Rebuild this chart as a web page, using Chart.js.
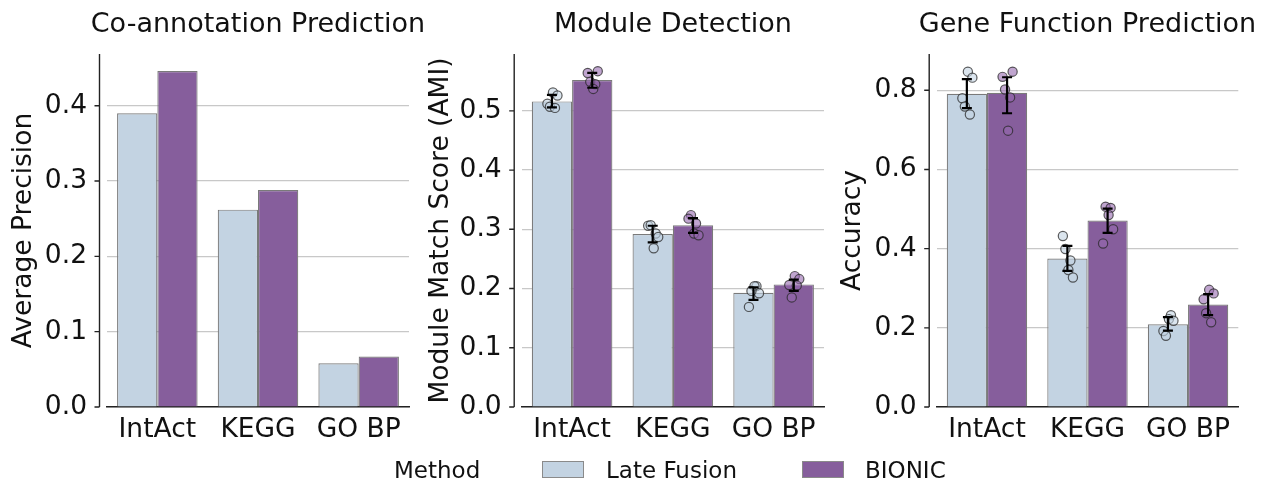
<!DOCTYPE html>
<html>
<head>
<meta charset="utf-8">
<title>BIONIC vs Late Fusion</title>
<script src="https://cdn.jsdelivr.net/npm/chart.js@4.4.1/dist/chart.umd.min.js"></script>
<style>
  body { margin: 0; background: #fff; width: 1273px; height: 486px; position: relative; overflow: hidden; font-family: 'DejaVu Sans', sans-serif; }
  canvas { position: absolute; top: 0; }
  .title { position: absolute; top: 9px; width: 500px; text-align: center; font-size: 27px; line-height: 27px; color: #111; white-space: nowrap; }
  .key { position: absolute; top: 458.5px; font-size: 23px; line-height: 23px; color: #111; white-space: nowrap; }
  .swatch { position: absolute; top: 461px; width: 42px; height: 17px; box-sizing: border-box; border: 1px solid #8a8a8a; }
</style>
</head>
<body>
<canvas id="coann" width="415" height="486" style="left:0px"></canvas>
<canvas id="module" width="420" height="486" style="left:415px"></canvas>
<canvas id="gene" width="438" height="486" style="left:835px"></canvas>

<div class="title" style="left:8px">Co-annotation Prediction</div>
<div class="title" style="left:423px">Module Detection</div>
<div class="title" style="left:837.5px">Gene Function Prediction</div>

<div class="key" style="left:394px">Method</div>
<div class="swatch" style="left:542px; background:#c3d3e2"></div>
<div class="key" style="left:606px">Late Fusion</div>
<div class="swatch" style="left:802px; background:#865e9c"></div>
<div class="key" style="left:865px">BIONIC</div>

<script>
const categories = ['IntAct', 'KEGG', 'GO BP'];
const methods = ['Late Fusion', 'BIONIC'];

// Co-annotation prediction (average precision)
const coannLate = [0.390, 0.262, 0.058];
const coannBionic = [0.446, 0.288, 0.067];
const coannTicks = [0, 0.1, 0.2, 0.3, 0.4];

// Module detection (AMI): means, CI bounds, individual runs
const moduleLate = [0.516, 0.292, 0.193];
const moduleBionic = [0.552, 0.307, 0.207];
const moduleLateLow = [0.506, 0.278, 0.181];
const moduleLateHigh = [0.527, 0.306, 0.202];
const moduleBionicLow = [0.539, 0.294, 0.196];
const moduleBionicHigh = [0.564, 0.319, 0.215];
const moduleLateRuns = [
  [0.531, 0.526, 0.512, 0.507, 0.505],
  [0.306, 0.307, 0.293, 0.268, 0.287],
  [0.204, 0.204, 0.192, 0.169, 0.196]
];
const moduleBionicRuns = [
  [0.567, 0.564, 0.549, 0.545, 0.537],
  [0.324, 0.310, 0.293, 0.290, 0.318],
  [0.221, 0.216, 0.206, 0.185, 0.205]
];
const moduleTicks = [0, 0.1, 0.2, 0.3, 0.4, 0.5];

// Gene function prediction (accuracy)
const geneLate = [0.791, 0.375, 0.209];
const geneBionic = [0.794, 0.471, 0.259];
const geneLateLow = [0.755, 0.344, 0.193];
const geneLateHigh = [0.828, 0.407, 0.227];
const geneBionicLow = [0.742, 0.440, 0.232];
const geneBionicHigh = [0.833, 0.501, 0.285];
const geneLateRuns = [
  [0.847, 0.832, 0.780, 0.759, 0.739],
  [0.432, 0.399, 0.370, 0.346, 0.327],
  [0.232, 0.222, 0.218, 0.192, 0.180]
];
const geneBionicRuns = [
  [0.847, 0.834, 0.802, 0.782, 0.698],
  [0.506, 0.503, 0.485, 0.449, 0.413],
  [0.296, 0.287, 0.272, 0.237, 0.214]
];
const geneTicks = [0, 0.2, 0.4, 0.6, 0.8];

// strip plot jitter, in category widths
const jitter = [0.01, 0.055, -0.045, -0.02, 0.03];

const FONT = 'DejaVu Sans';
const LATE_FILL = '#c3d3e2';
const BIONIC_FILL = '#865e9c';
const EDGE = '#7a7a7a';
const INK = '#111';

// y spine sits a few pixels left of the plot area, with short outward ticks
const offsetSpine = {
  id: 'offsetSpine',
  afterDraw: function(chart) {
    const ctx = chart.ctx, a = chart.chartArea, y = chart.scales.y;
    const x = a.left - 7.5;
    ctx.save();
    ctx.strokeStyle = '#222';
    ctx.lineWidth = 1.4;
    ctx.beginPath();
    ctx.moveTo(x, a.top);
    ctx.lineTo(x, a.bottom);
    y.ticks.forEach(function(t) {
      const py = y.getPixelForValue(t.value);
      ctx.moveTo(x - 5, py);
      ctx.lineTo(x, py);
    });
    ctx.stroke();
    ctx.restore();
  }
};

// individual runs as jittered dots, then the CI whiskers on top
const strips = {
  id: 'strips',
  afterDatasetsDraw: function(chart, args, opts) {
    if (!opts.groups) return;
    const ctx = chart.ctx, x = chart.scales.x, y = chart.scales.y;
    ctx.save();
    opts.groups.forEach(function(g, gi) {
      ctx.fillStyle = g.dot;
      ctx.strokeStyle = 'rgba(40,40,40,0.75)';
      ctx.lineWidth = 1.2;
      g.runs.forEach(function(vals, i) {
        vals.forEach(function(v, k) {
          const px = x.getPixelForValue(i + g.shift + jitter[(k + i * 2 + gi) % jitter.length]);
          const py = y.getPixelForValue(v);
          ctx.beginPath();
          ctx.arc(px, py, 4.6, 0, Math.PI * 2);
          ctx.fill();
          ctx.stroke();
        });
      });
    });
    ctx.strokeStyle = '#000';
    ctx.lineWidth = 2.2;
    opts.groups.forEach(function(g) {
      g.low.forEach(function(lo, i) {
        const px = x.getPixelForValue(i + g.shift);
        const y0 = y.getPixelForValue(lo);
        const y1 = y.getPixelForValue(g.high[i]);
        ctx.beginPath();
        ctx.moveTo(px, y0); ctx.lineTo(px, y1);
        ctx.moveTo(px - 5, y0); ctx.lineTo(px + 5, y0);
        ctx.moveTo(px - 5, y1); ctx.lineTo(px + 5, y1);
        ctx.stroke();
      });
    });
    ctx.restore();
  }
};

function buildPanel(id, p) {
  return new Chart(document.getElementById(id), {
    type: 'bar',
    data: {
      labels: categories,
      datasets: [
        { label: methods[0], data: p.late, backgroundColor: LATE_FILL, borderColor: EDGE, borderWidth: 1.2 },
        { label: methods[1], data: p.bionic, backgroundColor: BIONIC_FILL, borderColor: EDGE, borderWidth: 1.2 }
      ]
    },
    options: {
      responsive: false,
      animation: false,
      events: [],
      categoryPercentage: 0.8,
      barPercentage: 1,
      layout: { padding: { top: 54, right: p.padRight, left: 0, bottom: 0 } },
      plugins: {
        legend: { display: false },
        tooltip: { enabled: false },
        strips: { groups: p.strips }
      },
      scales: {
        x: {
          grid: { display: false, drawTicks: false },
          border: { display: true, color: '#222', width: 1.4 },
          ticks: { padding: 7, color: INK, font: { family: FONT, size: 26.5 } },
          afterFit: function(s) { s.height = 79; }
        },
        y: {
          min: 0,
          max: p.yMax,
          afterBuildTicks: function(s) { s.ticks = p.ticks.map(function(v) { return { value: v }; }); },
          grid: { color: '#c8c8c8', lineWidth: 1.2, drawTicks: false },
          border: { display: false },
          ticks: {
            padding: 20, color: INK, font: { family: FONT, size: 26.5 },
            callback: function(v) { return Number(v).toFixed(1); }
          },
          title: {
            display: true, text: p.yTitle, color: INK,
            font: { family: FONT, size: 26.5 },
            padding: { top: p.titlePad, bottom: 0 }
          },
          afterFit: function(s) { s.width = p.yWidth; }
        }
      }
    },
    plugins: [offsetSpine, strips]
  });
}

buildPanel('coann', {
  yTitle: 'Average Precision',
  late: coannLate, bionic: coannBionic,
  ticks: coannTicks, yMax: 0.4686,
  yWidth: 107, padRight: 6, titlePad: 8
});

buildPanel('module', {
  yTitle: 'Module Match Score (AMI)',
  late: moduleLate, bionic: moduleBionic,
  strips: [
    { shift: -0.2, runs: moduleLateRuns, low: moduleLateLow, high: moduleLateHigh, dot: 'rgba(195,211,226,0.6)' },
    { shift: 0.2, runs: moduleBionicRuns, low: moduleBionicLow, high: moduleBionicHigh, dot: 'rgba(150,105,175,0.6)' }
  ],
  ticks: moduleTicks, yMax: 0.596,
  yWidth: 106.7, padRight: 11, titlePad: 10
});

buildPanel('gene', {
  yTitle: 'Accuracy',
  late: geneLate, bionic: geneBionic,
  strips: [
    { shift: -0.2, runs: geneLateRuns, low: geneLateLow, high: geneLateHigh, dot: 'rgba(195,211,226,0.6)' },
    { shift: 0.2, runs: geneBionicRuns, low: geneBionicLow, high: geneBionicHigh, dot: 'rgba(150,105,175,0.6)' }
  ],
  ticks: geneTicks, yMax: 0.8917,
  yWidth: 101.7, padRight: 34.7, titlePad: 2
});
</script>
</body>
</html>
